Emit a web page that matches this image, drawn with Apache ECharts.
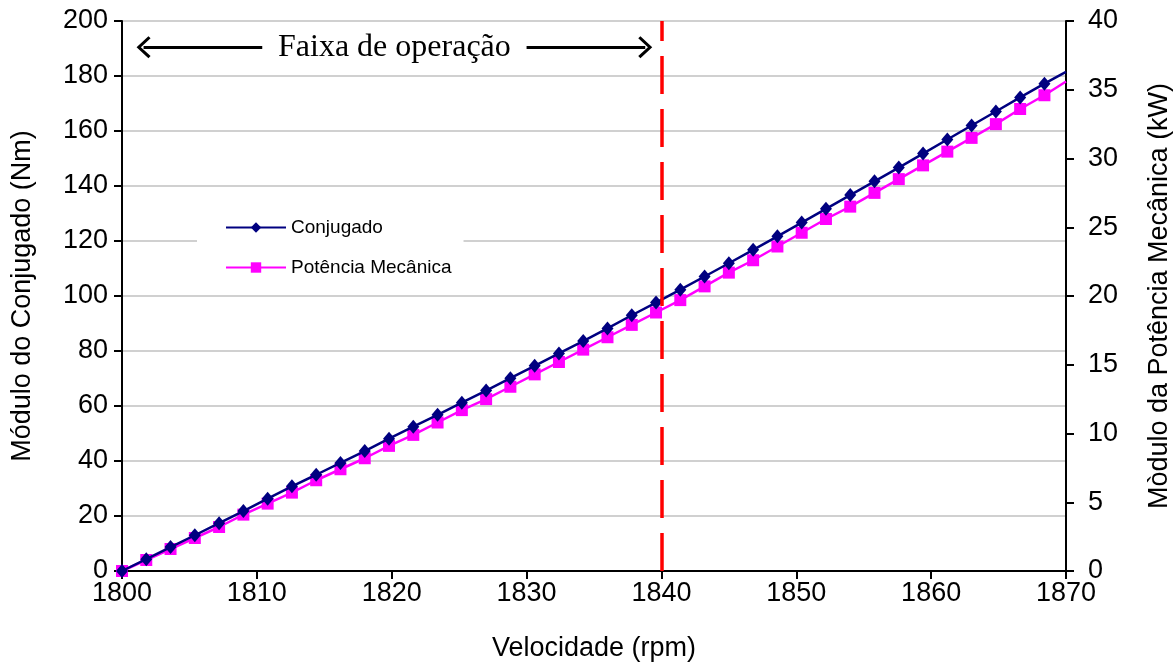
<!DOCTYPE html>
<html>
<head>
<meta charset="utf-8">
<script src="https://cdn.jsdelivr.net/npm/echarts@6/dist/echarts.min.js"></script>
<style>
  html, body { margin: 0; padding: 0; background: #fff; }
  #chart { width: 1174px; height: 668px; }
</style>
</head>
<body>
<div id="chart"></div>
<script>
// velocidade (rpm) of each point
const speed = [1800, 1801.8, 1803.6, 1805.4, 1807.2, 1809, 1810.8, 1812.6, 1814.4, 1816.2,
  1818, 1819.8, 1821.6, 1823.4, 1825.2, 1827, 1828.8, 1830.6, 1832.4, 1834.2,
  1836, 1837.8, 1839.6, 1841.4, 1843.2, 1845, 1846.8, 1848.6, 1850.4, 1852.2,
  1854, 1855.8, 1857.6, 1859.4, 1861.2, 1863, 1864.8, 1866.6, 1868.4, 1870];
// conjugado (Nm)
const torque = [0, 4.3, 8.7, 13.0, 17.4, 21.8, 26.3, 30.8, 35.0, 39.3,
  43.6, 48.1, 52.5, 56.8, 61.2, 65.6, 70.1, 74.6, 79.1, 83.6,
  88.2, 93.0, 97.6, 102.3, 107.1, 111.9, 116.8, 121.7, 126.7, 131.7,
  136.7, 141.7, 146.7, 151.8, 156.9, 162.0, 167.1, 172.2, 177.2, 181.5];
// potência mecânica (kW)
const power = [0, 0.8, 1.6, 2.4, 3.2, 4.1, 4.9, 5.7, 6.6, 7.4,
  8.2, 9.1, 9.9, 10.8, 11.7, 12.5, 13.4, 14.3, 15.2, 16.1,
  17.0, 17.9, 18.8, 19.7, 20.7, 21.7, 22.6, 23.6, 24.6, 25.6,
  26.5, 27.5, 28.5, 29.5, 30.5, 31.5, 32.5, 33.6, 34.6, 35.6];

const opLimit = 1840;
const arrowY = 190.5;

const font = 'Liberation Sans, Arial, sans-serif';
const chevron = 'path://M10,0 L20,11 L18,13 L10,4 L2,13 L0,11 Z';

const toPoints = (ys) => speed.map((x, i) =>
  i === speed.length - 1 ? { value: [x, ys[i]], symbol: 'none' } : [x, ys[i]]);

const chart = echarts.init(document.getElementById('chart'));
chart.setOption({
  animation: false,
  backgroundColor: '#fff',
  grid: { left: 122, right: 108, top: 21, bottom: 97, containLabel: false, outerBoundsMode: 'none' },
  legend: {
    orient: 'vertical',
    left: 197,
    top: 208,
    padding: [10, 12, 10, 28],
    backgroundColor: '#fff',
    itemWidth: 60,
    itemHeight: 13,
    itemGap: 21,
    textStyle: { fontFamily: font, fontSize: 19, color: '#000' },
    data: ['Conjugado', 'Potência Mecânica']
  },
  xAxis: {
    type: 'value',
    min: 1800,
    max: 1870,
    interval: 10,
    name: 'Velocidade (rpm)',
    nameLocation: 'middle',
    nameGap: 64,
    nameTextStyle: { fontFamily: font, fontSize: 27, color: '#000' },
    axisLine: { lineStyle: { color: '#000', width: 2 } },
    axisTick: { length: 8, lineStyle: { color: '#000', width: 2 } },
    axisLabel: { fontFamily: font, fontSize: 27, color: '#000', margin: 9, formatter: (v) => String(v) },
    splitLine: { show: false }
  },
  yAxis: [
    {
      type: 'value',
      min: 0,
      max: 200,
      interval: 20,
      name: 'Módulo do Conjugado (Nm)',
      nameLocation: 'middle',
      nameGap: 86,
      nameTextStyle: { fontFamily: font, fontSize: 27, color: '#000' },
      axisLine: { show: true, lineStyle: { color: '#000', width: 2 } },
      axisTick: { show: true, length: 8, lineStyle: { color: '#000', width: 2 } },
      axisLabel: { fontFamily: font, fontSize: 27, color: '#000', margin: 14 },
      splitLine: { lineStyle: { color: '#c0c0c0', width: 1.5 } }
    },
    {
      type: 'value',
      min: 0,
      max: 40,
      interval: 5,
      position: 'right',
      name: 'Mòdulo da Potência Mecânica (kW)',
      nameLocation: 'middle',
      nameGap: 80,
      nameTextStyle: { fontFamily: font, fontSize: 27, color: '#000' },
      axisLine: { show: true, lineStyle: { color: '#000', width: 2 } },
      axisTick: { show: true, length: 8, lineStyle: { color: '#000', width: 2 } },
      axisLabel: { fontFamily: font, fontSize: 27, color: '#000', margin: 22 },
      splitLine: { show: false }
    }
  ],
  series: [
    {
      name: 'Conjugado',
      type: 'line',
      yAxisIndex: 0,
      data: toPoints(torque),
      symbol: 'diamond',
      symbolSize: [12, 14],
      showSymbol: true,
      color: '#000080',
      lineStyle: { color: '#000080', width: 2.5 },
      itemStyle: { color: '#000080' },
      z: 3,
      markLine: {
        silent: true,
        symbol: ['none', 'none'],
        label: { show: false },
        data: [
          [
            { coord: [opLimit, 0], lineStyle: { color: '#ff0000', width: 3.5, type: [38, 15] } },
            { coord: [opLimit, 200] }
          ],
          [
            { coord: [1801.6, arrowY], symbol: chevron, symbolSize: [22, 14], lineStyle: { color: '#000', width: 3, type: 'solid' } },
            { coord: [1810.4, arrowY], symbol: 'none' }
          ],
          [
            { coord: [1830.0, arrowY], symbol: 'none', lineStyle: { color: '#000', width: 3, type: 'solid' } },
            { coord: [1838.8, arrowY], symbol: chevron, symbolSize: [22, 14] }
          ]
        ]
      },
      markPoint: {
        silent: true,
        data: [
          {
            coord: [1820.2, arrowY],
            symbol: 'circle',
            symbolSize: 1,
            itemStyle: { color: 'rgba(0,0,0,0)' },
            label: {
              show: true,
              position: 'inside',
              formatter: 'Faixa de operação',
              fontFamily: 'Liberation Serif, Times New Roman, serif',
              fontSize: 32,
              color: '#000'
            }
          }
        ]
      }
    },
    {
      name: 'Potência Mecânica',
      type: 'line',
      yAxisIndex: 1,
      data: toPoints(power),
      symbol: 'rect',
      symbolSize: 12,
      showSymbol: true,
      color: '#ff00ff',
      lineStyle: { color: '#ff00ff', width: 2.5 },
      itemStyle: { color: '#ff00ff' },
      z: 2
    }
  ]
});
</script>
</body>
</html>
